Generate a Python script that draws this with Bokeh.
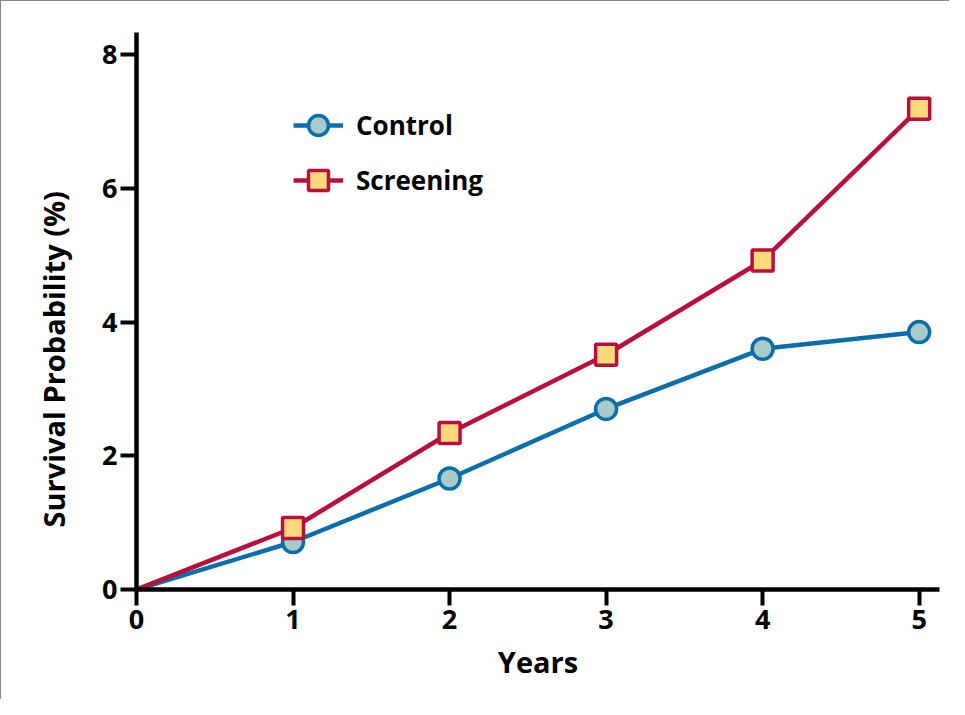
from bokeh.plotting import figure
from bokeh.models import Range1d, FixedTicker, Legend, LegendItem, Title
from bokeh.embed import file_html
from bokeh.resources import INLINE

years = [0, 1, 2, 3, 4, 5]
control = [0, 0.71, 1.66, 2.70, 3.60, 3.85]
screening = [0, 0.92, 2.34, 3.51, 4.92, 7.19]
x_ticks = [0, 1, 2, 3, 4, 5]
y_ticks = [0, 2, 4, 6, 8]
x_title = "Years"
y_title = "Survival Probability (%)"

FONT = "Open Sans"
BLUE = "#0a6fa8"
BLUE_FILL = "#a8cbc9"
RED = "#b8103c"
YELLOW = "#fcd97b"

p = figure(width=949, height=699, output_backend="svg", toolbar_location=None,
           x_range=Range1d(0, 5.13), y_range=Range1d(0, 8.33),
           min_border_left=135, min_border_right=11, min_border_top=31, min_border_bottom=111,
           styles={"border-top": "1.5px solid #888", "border-left": "1.5px solid #888"})
p.grid.visible = False
p.outline_line_color = None

for ax in (p.xaxis[0], p.yaxis[0]):
    ax.axis_line_width = 4.5
    ax.axis_line_color = "black"
    ax.major_tick_line_width = 4
    ax.major_tick_line_color = "black"
    ax.major_tick_out = 16
    ax.major_tick_in = 0
    ax.minor_tick_line_color = None
    ax.major_label_text_font = FONT
    ax.major_label_text_font_style = "bold"
    ax.major_label_text_font_size = "27px"
    ax.major_label_text_color = "black"
    ax.axis_label_text_font = FONT
    ax.axis_label_text_font_style = "bold"
    ax.axis_label_text_font_size = "29px"
    ax.axis_label_text_color = "black"

p.xaxis.ticker = FixedTicker(ticks=x_ticks)
p.yaxis.ticker = FixedTicker(ticks=y_ticks)
p.xaxis.axis_label = x_title
p.xaxis.major_label_standoff = 4
p.yaxis.major_label_standoff = 3
p.xaxis.axis_label_standoff = 10

ytitle = Title(text=y_title, align="left", offset=62, standoff=54,
               text_font=FONT, text_font_style="bold", text_font_size="29px",
               text_color="black")
p.add_layout(ytitle, "left")

lc = p.line(years, control, line_color=BLUE, line_width=4.5)
ls = p.line(years, screening, line_color=RED, line_width=4.5)
mc = p.scatter(years[1:], control[1:], marker="circle", size=21, fill_color=BLUE_FILL,
               line_color=BLUE, line_width=3.5)
ms = p.scatter(years[1:], screening[1:], marker="square", size=21, fill_color=YELLOW,
               line_color=RED, line_width=3.5)

legend = Legend(items=[LegendItem(label="Control", renderers=[lc, mc]),
                       LegendItem(label="Screening", renderers=[ls, ms])],
                location=(157, 383), glyph_width=50, glyph_height=52, spacing=3,
                label_text_font=FONT, label_text_font_style="bold",
                label_text_font_size="26px", label_text_color="black",
                border_line_color=None, background_fill_alpha=0, padding=0,
                label_standoff=13)
p.add_layout(legend)

open("out.html", "w").write(file_html(p, INLINE))
